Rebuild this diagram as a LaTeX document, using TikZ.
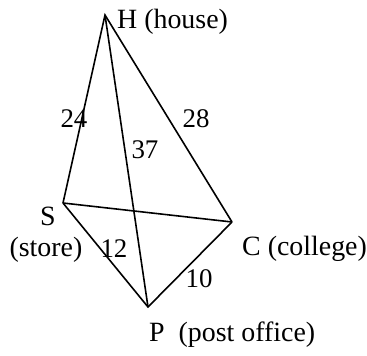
\documentclass[tikz,border=0pt]{standalone}
\usepackage{fontspec}
\setmainfont{Liberation Serif}
\usetikzlibrary{positioning}

\begin{document}
\begin{tikzpicture}[
    x=1bp, y=-1bp,
    road/.style={line width=1.6pt, black},
    place/.style={inner sep=0pt, font=\fontsize{28}{32}\selectfont},
    dist/.style={inner sep=0pt, anchor=base, font=\fontsize{27}{30}\selectfont}
]
\useasboundingbox (0,0) rectangle (367,356);

% the four places
\coordinate (H) at (105,15);
\coordinate (S) at (63,203);
\coordinate (C) at (232,222);
\coordinate (P) at (148,307);

% roads
\draw[road, line join=miter] (S) -- (H) -- (C);
\draw[road] (H) -- (P);
\draw[road] (S) -- (C);
\draw[road, line join=miter] (S) -- (P) -- (C);

% names
\node[place, anchor=base west] (hname) at (117,28) {H (house)};
\node[place, anchor=base] (sname) at (48,225) {S};
\node[place, anchor=base] (sword) at (46,256) {(store)};
\node[place, anchor=base west] (cname) at (242,255) {C (college)};
\node[place, anchor=base west] (pname) at (149,341) {P\ \ (post office)};

% distances
\node[dist] (dHS) at (74,127) {24};
\node[dist] (dHC) at (196,127) {28};
\node[dist] (dHP) at (145,158) {37};
\node[dist] (dSP) at (114,257) {12};
\node[dist] (dPC) at (199,287) {10};
\end{tikzpicture}
\end{document}
